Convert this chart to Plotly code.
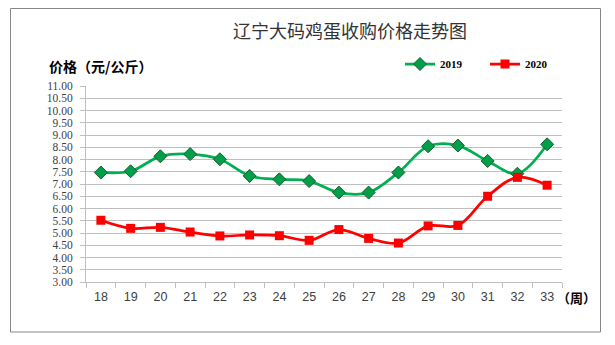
import plotly.graph_objects as go

weeks = [str(w) for w in range(18, 34)]
price_2019 = [7.47, 7.52, 8.13, 8.22, 8.01, 7.33, 7.19, 7.12, 6.65, 6.65, 7.47, 8.54, 8.57, 7.94, 7.42, 8.62]
price_2020 = [5.52, 5.19, 5.23, 5.04, 4.88, 4.92, 4.89, 4.70, 5.14, 4.78, 4.59, 5.29, 5.31, 6.50, 7.27, 6.95]
y_ticks = [3 + 0.5 * i for i in range(17)]

W, H = 615, 345
L, R, T, B = 86, 53, 86, 63
pw, ph = W - L - R, H - T - B

def px(x):
    return (x - L) / pw

def py(y):
    return (H - B - y) / ph

fig = go.Figure()
fig.add_trace(go.Scatter(
    x=weeks, y=price_2019, name="2019", mode="lines+markers",
    line=dict(color="#00B050", width=2.75, shape="spline", smoothing=1),
    marker=dict(symbol="diamond", size=10, color="#00A04A", line=dict(color="#1E5A2E", width=1)),
))
fig.add_trace(go.Scatter(
    x=weeks, y=price_2020, name="2020", mode="lines+markers",
    line=dict(color="#FF0000", width=2.75, shape="spline", smoothing=1),
    marker=dict(symbol="square", size=9, color="#FF0000", line=dict(color="#FF0000", width=0)),
))

fig.update_layout(
    width=W, height=H,
    margin=dict(l=L, r=R, t=T, b=B),
    paper_bgcolor="white", plot_bgcolor="white",
    title=dict(text="辽宁大码鸡蛋收购价格走势图", x=350 / W, xanchor="center",
               y=1 - 32 / H, yanchor="middle",
               font=dict(family="Noto Sans CJK SC", size=18, color="#333333")),
    xaxis=dict(type="category", range=[-0.5, 15.5], showgrid=False,
               showline=True, linecolor="#BFBFBF", linewidth=1,
               ticks="outside", tickson="boundaries", ticklen=5, tickcolor="#BFBFBF",
               ticklabelstandoff=3,
               tickfont=dict(family="Liberation Sans", size=12.5, color="#404040")),
    yaxis=dict(range=[3, 11], tickvals=y_ticks, tickformat=".2f",
               showgrid=True, gridcolor="#BFBFBF", gridwidth=1,
               showline=True, linecolor="#BFBFBF", linewidth=1,
               ticks="outside", ticklen=5, tickcolor="#BFBFBF",
               ticklabelstandoff=5,
               tickfont=dict(family="Liberation Serif", size=11.5, color="#404040"),
               zeroline=False),
    legend=dict(orientation="h", x=px(400), y=py(64), xanchor="left", yanchor="middle",
                font=dict(family="Liberation Serif", size=11, color="#000000", weight="bold"),
                entrywidth=40, bgcolor="rgba(0,0,0,0)", itemwidth=30,
                tracegroupgap=0),
    showlegend=True,
)

fig.add_annotation(text="价格（元/公斤）", xref="paper", yref="paper",
                   x=px(47), y=py(66), xanchor="left", yanchor="middle", showarrow=False,
                   font=dict(family="Noto Sans CJK SC", size=14, color="#000000", weight="bold"))
fig.add_annotation(text="（周）", xref="paper", yref="paper",
                   x=px(555), y=py(297), xanchor="left", yanchor="middle", showarrow=False,
                   font=dict(family="Noto Sans CJK SC", size=13, color="#000000", weight="bold"))
fig.add_shape(type="rect", xref="paper", yref="paper",
              x0=px(10.5), x1=px(600.5), y0=py(332), y1=py(8.5),
              line=dict(color="#868686", width=1), fillcolor="rgba(0,0,0,0)", layer="below")

fig.write_html("out.html")
